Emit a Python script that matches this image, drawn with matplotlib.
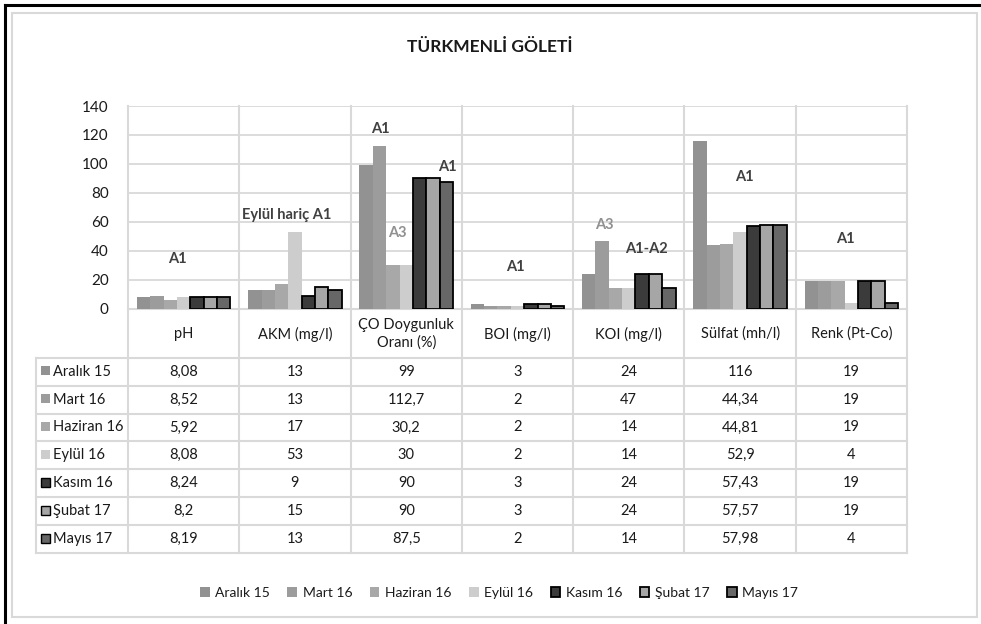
import matplotlib
matplotlib.use("Agg")
import matplotlib.pyplot as plt
from matplotlib.patches import Rectangle
from matplotlib.lines import Line2D

plt.rcParams['font.family'] = ['Lato', 'DejaVu Sans']

title = "TÜRKMENLİ GÖLETİ"
categories = ["pH", "AKM (mg/l)", "ÇO Doygunluk\nOranı (%)", "BOI (mg/l)",
              "KOI (mg/l)", "Sülfat (mh/l)", "Renk (Pt-Co)"]
series_names = ["Aralık 15", "Mart 16", "Haziran 16", "Eylül 16",
                "Kasım 16", "Şubat 17", "Mayıs 17"]
aralik15 = [8.08, 13, 99, 3, 24, 116, 19]
mart16 = [8.52, 13, 112.7, 2, 47, 44.34, 19]
haziran16 = [5.92, 17, 30.2, 2, 14, 44.81, 19]
eylul16 = [8.08, 53, 30, 2, 14, 52.9, 4]
kasim16 = [8.24, 9, 90, 3, 24, 57.43, 19]
subat17 = [8.2, 15, 90, 3, 24, 57.57, 19]
mayis17 = [8.19, 13, 87.5, 2, 14, 57.98, 4]
series_values = [aralik15, mart16, haziran16, eylul16, kasim16, subat17, mayis17]
colors = ["#929292", "#9c9c9c", "#a8a8a8", "#cdcdcd", "#3b3b3b", "#a6a6a6", "#676767"]
edges = [None, None, None, None, "#000000", "#000000", "#000000"]
y_ticks = [0, 20, 40, 60, 80, 100, 120, 140]

# annotations: (category position, value, text, color)
annotations = [
    (0.44, 34, "A1", "#404040"),
    (1.43, 65, "Eylül hariç A1", "#404040"),
    (2.27, 124, "A1", "#404040"),
    (2.42, 52, "A3", "#909090"),
    (2.87, 98, "A1", "#404040"),
    (3.48, 29, "A1", "#404040"),
    (4.28, 58, "A3", "#909090"),
    (4.66, 41, "A1-A2", "#404040"),
    (5.54, 91, "A1", "#404040"),
    (6.45, 48, "A1", "#404040"),
]

W, H = 981, 624
fig = plt.figure(figsize=(W / 100, H / 100), dpi=100)

# overlay in pixel coordinates
ov = fig.add_axes([0, 0, 1, 1])
ov.set_xlim(0, W)
ov.set_ylim(H, 0)
ov.axis("off")

grid_c = "#d9d9d9"
txt_c = "#1a1a1a"
# frame
ov.add_line(Line2D([5, 5], [5, H], color="black", lw=2.2))
ov.add_line(Line2D([5, W], [5, 5], color="black", lw=2.2))
ov.add_patch(Rectangle((12, 13), 965, 604, fill=False, ec="#d9d9d9", lw=1.5))

x0, x1 = 128, 907
ytop, ybot = 106, 308.7
ax = fig.add_axes([x0 / W, 1 - ybot / H, (x1 - x0) / W, (ybot - ytop) / H])
n = len(categories)
ns = len(series_names)
group = 0.84
bw = group / ns
for j, (name, vals) in enumerate(zip(series_names, series_values)):
    xs = [i + 0.5 + (j - (ns - 1) / 2) * bw for i in range(n)]
    if edges[j]:
        ax.bar(xs, vals, width=bw, color=colors[j], edgecolor=edges[j],
               linewidth=1.3, label=name, zorder=3)
    else:
        ax.bar(xs, vals, width=bw, color=colors[j], linewidth=0,
               label=name, zorder=3)
ax.set_xlim(0, n)
ax.set_ylim(0, 140)
ax.set_yticks(y_ticks)
ax.set_yticklabels([str(t) for t in y_ticks], fontsize=11, color=txt_c)
ax.tick_params(axis="y", length=0, pad=14)
ax.set_xticks([])
ax.grid(axis="y", color=grid_c, lw=1.3, zorder=0)
for s in ax.spines.values():
    s.set_visible(False)
ax.patch.set_alpha(0)

for xi, v, t, c in annotations:
    ax.text(xi, v, t, ha="center", va="center", fontsize=10.5,
            fontweight="bold", color=c, zorder=4)

# vertical grid lines through plot and table
colw = (x1 - x0) / n
row_top = 357.7
row_h = 27.9
table_bot = row_top + row_h * ns
for i in range(n + 1):
    xx = x0 + i * colw
    ov.add_line(Line2D([xx, xx], [ytop, table_bot], color=grid_c, lw=1.5))
ov.add_line(Line2D([x0, x1], [ybot, ybot], color=grid_c, lw=1.5))
ov.add_line(Line2D([36, 36], [row_top, table_bot], color=grid_c, lw=1.5))
for r in range(ns + 1):
    yy = row_top + r * row_h
    ov.add_line(Line2D([36, x1], [yy, yy], color=grid_c, lw=1.5))

# header
for i, c in enumerate(categories):
    ov.text(x0 + (i + 0.5) * colw, 334, c, ha="center", va="center",
            fontsize=10.5, color=txt_c, linespacing=1.25)


def fmt(v):
    return f"{v:g}".replace(".", ",")


for r, (name, vals) in enumerate(zip(series_names, series_values)):
    yc = row_top + (r + 0.5) * row_h
    ov.add_patch(Rectangle((41, yc - 5.5), 9, 9, fc=colors[r],
                           ec=edges[r] if edges[r] else "none", lw=1.0))
    ov.text(53, yc, name, ha="left", va="center", fontsize=10.5, color=txt_c)
    for i, v in enumerate(vals):
        ov.text(x0 + (i + 0.5) * colw, yc, fmt(v), ha="center", va="center",
                fontsize=10.5, color=txt_c)

ov.text(490, 47, title, ha="center", va="center", fontsize=12.5,
        fontweight="bold", color=txt_c)

handles, labels = ax.get_legend_handles_labels()
fig.legend(handles, labels, loc="center", bbox_to_anchor=(499 / W, 1 - 593 / H),
           ncol=7, frameon=False, fontsize=10, handlelength=0.7,
           handleheight=0.7, handletextpad=0.4, columnspacing=1.25,
           labelcolor=txt_c)

fig.savefig("out.png", dpi=100)
